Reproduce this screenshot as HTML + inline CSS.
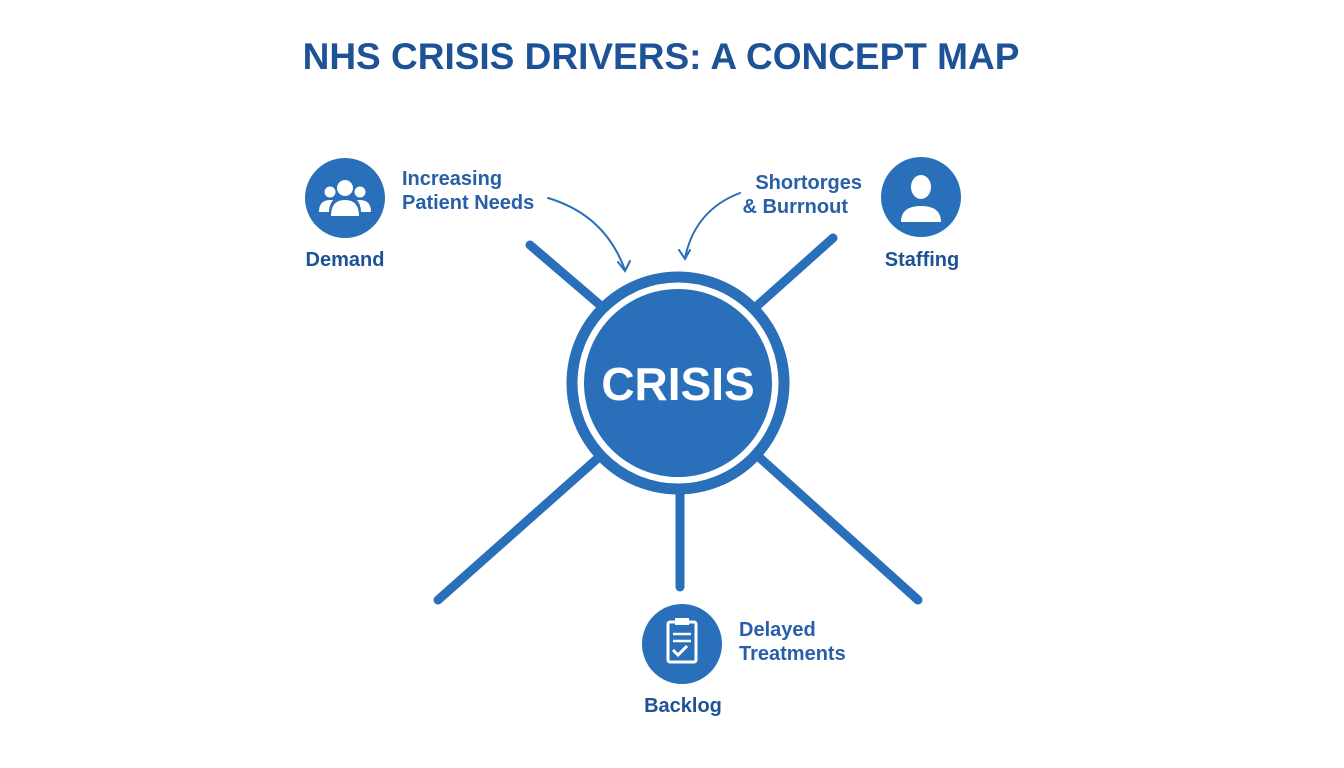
<!DOCTYPE html>
<html><head><meta charset="utf-8"><style>
body{margin:0;background:#fff;}
svg{display:block}
text{font-family:"Liberation Sans",sans-serif;font-weight:bold;}
</style></head><body>
<svg width="1344" height="768" viewBox="0 0 1344 768">
<text x="661" y="69" text-anchor="middle" font-size="37" fill="#1d5296">NHS CRISIS DRIVERS: A CONCEPT MAP</text>
<g stroke="#2a6fba" stroke-width="9" stroke-linecap="round" fill="none">
<line x1="530" y1="245" x2="600" y2="305"/>
<line x1="833" y1="238" x2="758" y2="305"/>
<line x1="598" y1="458" x2="438" y2="600"/>
<line x1="680" y1="490" x2="680" y2="587"/>
<line x1="760" y1="458" x2="918" y2="600"/>
</g>
<circle cx="678" cy="383" r="106" fill="#fff" stroke="#2a6fba" stroke-width="11"/>
<circle cx="678" cy="383" r="94" fill="#2a6fba"/>
<text x="678" y="400" text-anchor="middle" font-size="46" fill="#fff">CRISIS</text>
<g stroke="#2a6fba" stroke-width="2" fill="none" stroke-linecap="round">
<path d="M548 198 Q605 215 625 270"/><path d="M618 262 L625 271 L630 261"/>
<path d="M740 193 Q695 210 685 258"/><path d="M679 250 L685 259 L690 250"/>
</g>
<!-- Demand -->
<circle cx="345" cy="198" r="40" fill="#2a6fba"/>
<g fill="#fff"><circle cx="345" cy="188" r="8"/><path d="M331 216 q0-16 14-16 q14 0 14 16z"/>
<circle cx="330" cy="192" r="5.5"/><circle cx="360" cy="192" r="5.5"/>
<path d="M319 212 q0-12 11-12 l3 0 q-4 5-4 12z"/><path d="M371 212 q0-12 -11-12 l-3 0 q4 5 4 12z"/></g>
<text x="345" y="266" text-anchor="middle" font-size="20" fill="#1d5296">Demand</text>
<text x="402" y="185" font-size="20" fill="#275fa8">Increasing</text>
<text x="402" y="209" font-size="20" fill="#275fa8">Patient Needs</text>
<!-- Staffing -->
<circle cx="921" cy="197" r="40" fill="#2a6fba"/>
<g fill="#fff"><ellipse cx="921" cy="187" rx="10" ry="12"/><path d="M901 222 q0-16 20-16 q20 0 20 16z"/></g>
<text x="922" y="266" text-anchor="middle" font-size="20" fill="#1d5296">Staffing</text>
<text x="862" y="189" text-anchor="end" font-size="20" fill="#275fa8">Shortorges</text>
<text x="848" y="213" text-anchor="end" font-size="20" fill="#275fa8">&amp; Burrnout</text>
<!-- Backlog -->
<circle cx="682" cy="644" r="40" fill="#2a6fba"/>
<rect x="668" y="622" width="28" height="40" rx="2" fill="none" stroke="#fff" stroke-width="3"/>
<rect x="675" y="618" width="14" height="7" fill="#fff"/>
<g stroke="#fff" stroke-width="2.5"><line x1="673" y1="634" x2="691" y2="634"/><line x1="673" y1="641" x2="691" y2="641"/></g>
<path d="M673 650 l5 5 l9 -9" stroke="#fff" stroke-width="3" fill="none"/>
<text x="683" y="712" text-anchor="middle" font-size="20" fill="#1d5296">Backlog</text>
<text x="739" y="636" font-size="20" fill="#275fa8">Delayed</text>
<text x="739" y="660" font-size="20" fill="#275fa8">Treatments</text>
</svg>
</body></html>
